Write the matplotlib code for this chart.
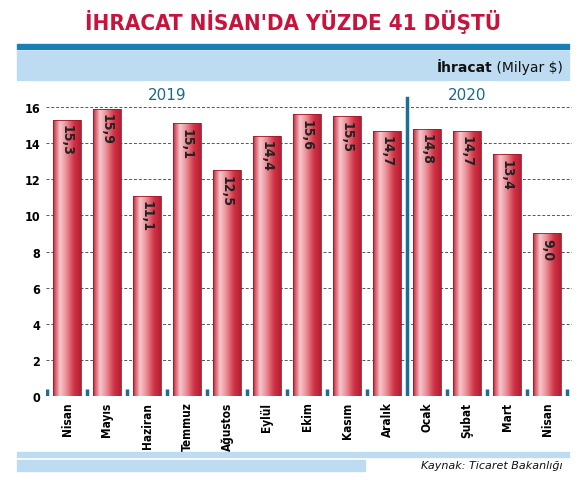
import matplotlib
matplotlib.use("Agg")
import matplotlib.pyplot as plt
import numpy as np
from matplotlib.patches import Rectangle

months = ["Nisan","Mayıs","Haziran","Temmuz","Ağustos","Eylül","Ekim","Kasım","Aralık","Ocak","Şubat","Mart","Nisan"]
values = [15.3,15.9,11.1,15.1,12.5,14.4,15.6,15.5,14.7,14.8,14.7,13.4,9.0]
labels = ["15,3","15,9","11,1","15,1","12,5","14,4","15,6","15,5","14,7","14,8","14,7","13,4","9,0"]
yticks = [0,2,4,6,8,10,12,14,16]

W,H = 586,481
fig = plt.figure(figsize=(W/100,H/100), dpi=100)
FS = dict(family="DejaVu Sans", fontstretch="condensed")

def fx(px): return px/W
def fy(py): return 1-py/H

fig.text(0.5, fy(22), "İHRACAT NİSAN'DA YÜZDE 41 DÜŞTÜ", ha="center", va="center",
         color="#c8143c", fontsize=16, fontweight="bold", **FS)
fig.patches.append(Rectangle((fx(17), fy(50)), fx(552), 5/H, transform=fig.transFigure, color="#1a7fb5"))
fig.patches.append(Rectangle((fx(17), fy(81)), fx(552), 29/H, transform=fig.transFigure, color="#bddcf2"))
t1 = fig.text(fx(563), fy(68), " (Milyar $)", ha="right", va="center", fontsize=10, color="#111")
fig.canvas.draw()
bb = t1.get_window_extent()
fig.text(bb.x0/W, fy(68), "İhracat", ha="right", va="center", fontsize=10, fontweight="bold", color="#111")
fig.patches.append(Rectangle((fx(17), fy(458)), fx(552), 5/H, transform=fig.transFigure, color="#bddcf2"))
fig.patches.append(Rectangle((fx(17), fy(472)), fx(348), 11/H, transform=fig.transFigure, color="#bddcf2"))
fig.text(fx(563), fy(466), "Kaynak: Ticaret Bakanlığı", ha="right", va="center", fontsize=8, style="italic", color="#111")

ax = fig.add_axes([fx(46), fy(397), fx(526), (397-92)/H])
ax.set_zorder(5)
ax.patch.set_alpha(0)
x = np.arange(len(values))
bars = ax.bar(x, values, width=0.7, color="#e05060", zorder=3)
grad = np.linspace(0,1,64)
cmap = matplotlib.colors.LinearSegmentedColormap.from_list("g", ["#c8283c","#f6c8cc","#e88890","#d03448","#b81c30"])
for b in bars:
    x0,w,h = b.get_x(), b.get_width(), b.get_height()
    im = ax.imshow(grad[None,:], cmap=cmap, aspect="auto", extent=(x0,x0+w,0,h), zorder=4)
    im.set_clip_path(b)
    ax.add_patch(Rectangle((x0,0),w,h,fill=False,ec="#a01828",lw=0.6,zorder=5))
for xi,v,l in zip(x,values,labels):
    ax.text(xi, v-0.25, l, rotation=270, ha="center", va="top", fontsize=10, fontweight="bold", color="#222", zorder=6, **FS)

for i in range(len(values)+1):
    if i != 9:
        ax.plot([i-0.5,i-0.5],[0,0.4], color="#1a6f96", lw=2.5, zorder=6, solid_capstyle="butt")
ax.plot([8.5,8.5],[0,16.5], color="#1a6f96", lw=2.5, zorder=6)
for yv in yticks[1:]:
    ax.axhline(yv, color="#555", lw=0.7, ls=(0,(3,2)), zorder=1)
ax.text(2.5, 16.3, "2019", ha="center", va="bottom", fontsize=11, color="#1a6a8a")
ax.text(10.0, 16.3, "2020", ha="center", va="bottom", fontsize=11, color="#1a6a8a")

ax.set_xlim(-0.525, 12.625)
ax.set_ylim(0, 16.89)
ax.set_yticks(yticks)
ax.set_yticklabels([str(v) for v in yticks], fontsize=9, fontweight="bold", **FS)
ax.set_xticks(x)
ax.set_xticklabels(months, rotation=90, fontsize=8.5, fontweight="bold", **FS)
ax.tick_params(length=0, pad=4)
for s in ax.spines.values(): s.set_visible(False)
fig.savefig("out.png", dpi=100)
